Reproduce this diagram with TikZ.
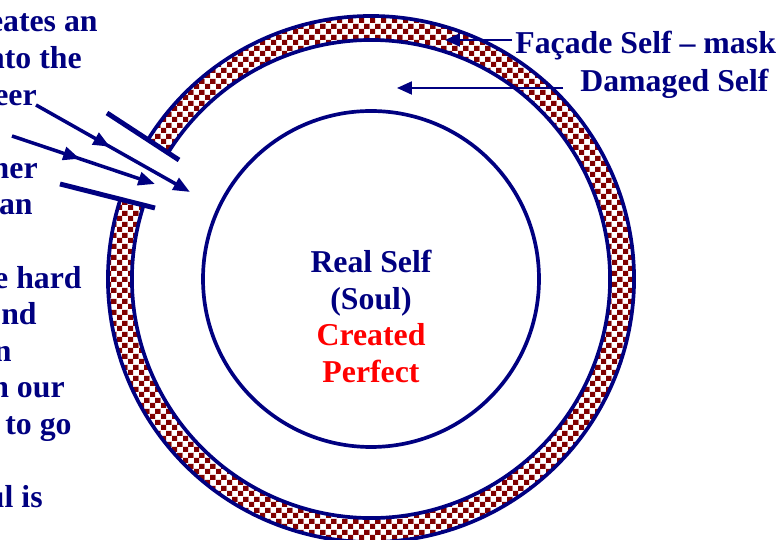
\documentclass[tikz,border=0pt]{standalone}
\usepackage{fontspec}
\setmainfont{Liberation Serif}
\usepackage{xcolor}
\usetikzlibrary{arrows.meta,patterns.meta,decorations.markings}

\definecolor{selfnavy}{RGB}{0,0,128}
\definecolor{maskred}{RGB}{128,0,0}
\definecolor{soulred}{RGB}{255,0,0}

% checker for the facade ring
\tikzdeclarepattern{
  name=maskcheck,
  type=colored,
  bottom left={(0pt,0pt)},
  top right={(6pt,6pt)},
  tile size={(6pt,6pt)},
  code={
    \fill[white] (0pt,0pt) rectangle (6pt,6pt);
    \fill[maskred] (0pt,0pt) rectangle (3pt,3pt);
    \fill[maskred] (3pt,3pt) rectangle (6pt,6pt);
  }
}

\begin{document}
\begin{tikzpicture}[
  x=0.02cm,y=0.02cm,
  lbl/.style={font=\fontsize{18.1pt}{20.75pt}\selectfont\bfseries,text=selfnavy,inner sep=0pt},
  ringline/.style={draw=selfnavy,line width=2.1pt},
  cutline/.style={draw=selfnavy,line width=2.8pt},
  ptr/.style={selfnavy,line width=1.1pt,-{Triangle[length=8.5pt,width=7.4pt]}},
  ray/.style={selfnavy,line width=2pt,-{Triangle[length=9.5pt,width=7.5pt]},
    decoration={markings,mark=at position #1 with {\arrow{Triangle[length=9.5pt,width=7.5pt]}}},
    postaction={decorate}}]
  \useasboundingbox (0,0) rectangle (781,540);
  \clip (0,0) rectangle (781,540);

  % rings
  \coordinate (c) at (371,261);
  \begin{scope}[shift={(c)}]
    \fill[pattern=maskcheck] (162:263) arc[start angle=162,end angle=508,radius=263]
      -- (148:239) arc[start angle=148,end angle=-198,radius=239] -- cycle;
    \draw[ringline] (162:263) arc[start angle=162,end angle=508,radius=263];
    \draw[ringline] (162:239) arc[start angle=162,end angle=508,radius=239];
  \end{scope}
  \draw[ringline] (c) circle[radius=168];

  % gap in the mask
  \coordinate (cutUa) at (107,427); \coordinate (cutUb) at (179,380);
  \coordinate (cutLa) at (60,356);  \coordinate (cutLb) at (155,332);
  \draw[cutline] (cutUa) -- (cutUb);
  \draw[cutline] (cutLa) -- (cutLb);

  % arrows into the damaged self
  \coordinate (rayAstart) at (36,435); \coordinate (rayAend) at (190,348);
  \coordinate (rayBstart) at (12,404); \coordinate (rayBend) at (155,356);
  \draw[ray=0.48] (rayAstart) -- (rayAend);
  \draw[ray=0.475] (rayBstart) -- (rayBend);

  % labels
  \node[lbl,align=center] (soul) at (371,223.5)
    {Real Self\\(Soul)\\\textcolor{soulred}{Created}\\\textcolor{soulred}{Perfect}};
  \node[lbl,anchor=base west] (facade) at (515,486) {Façade Self – mask};
  \node[lbl,anchor=base west] (damaged) at (580,448) {Damaged Self};
  \coordinate (facadetip) at (445,500);
  \coordinate (damagedtip) at (397,452);
  \draw[ptr,shorten <=0.06cm] (facade.west |- facadetip) -- (facadetip);
  \draw[ptr,shorten <=0.34cm] (damaged.west |- damagedtip) -- (damagedtip);

  % text block cut by the left edge
  \foreach \xr/\yb/\txt [count=\i] in {98/32/eates an,82/68.6/nto the,37/105.2/eer,
      38/178.4/her,33/215/an,82/288.2/e hard,37/324.8/nd,12/361.4/n,
      65/398/n our,72/434.6/to go,43/507.8/ul is}
    \node[lbl,anchor=base east] (frag\i) at (\xr,{540-\yb}) {\txt};
\end{tikzpicture}
\end{document}
